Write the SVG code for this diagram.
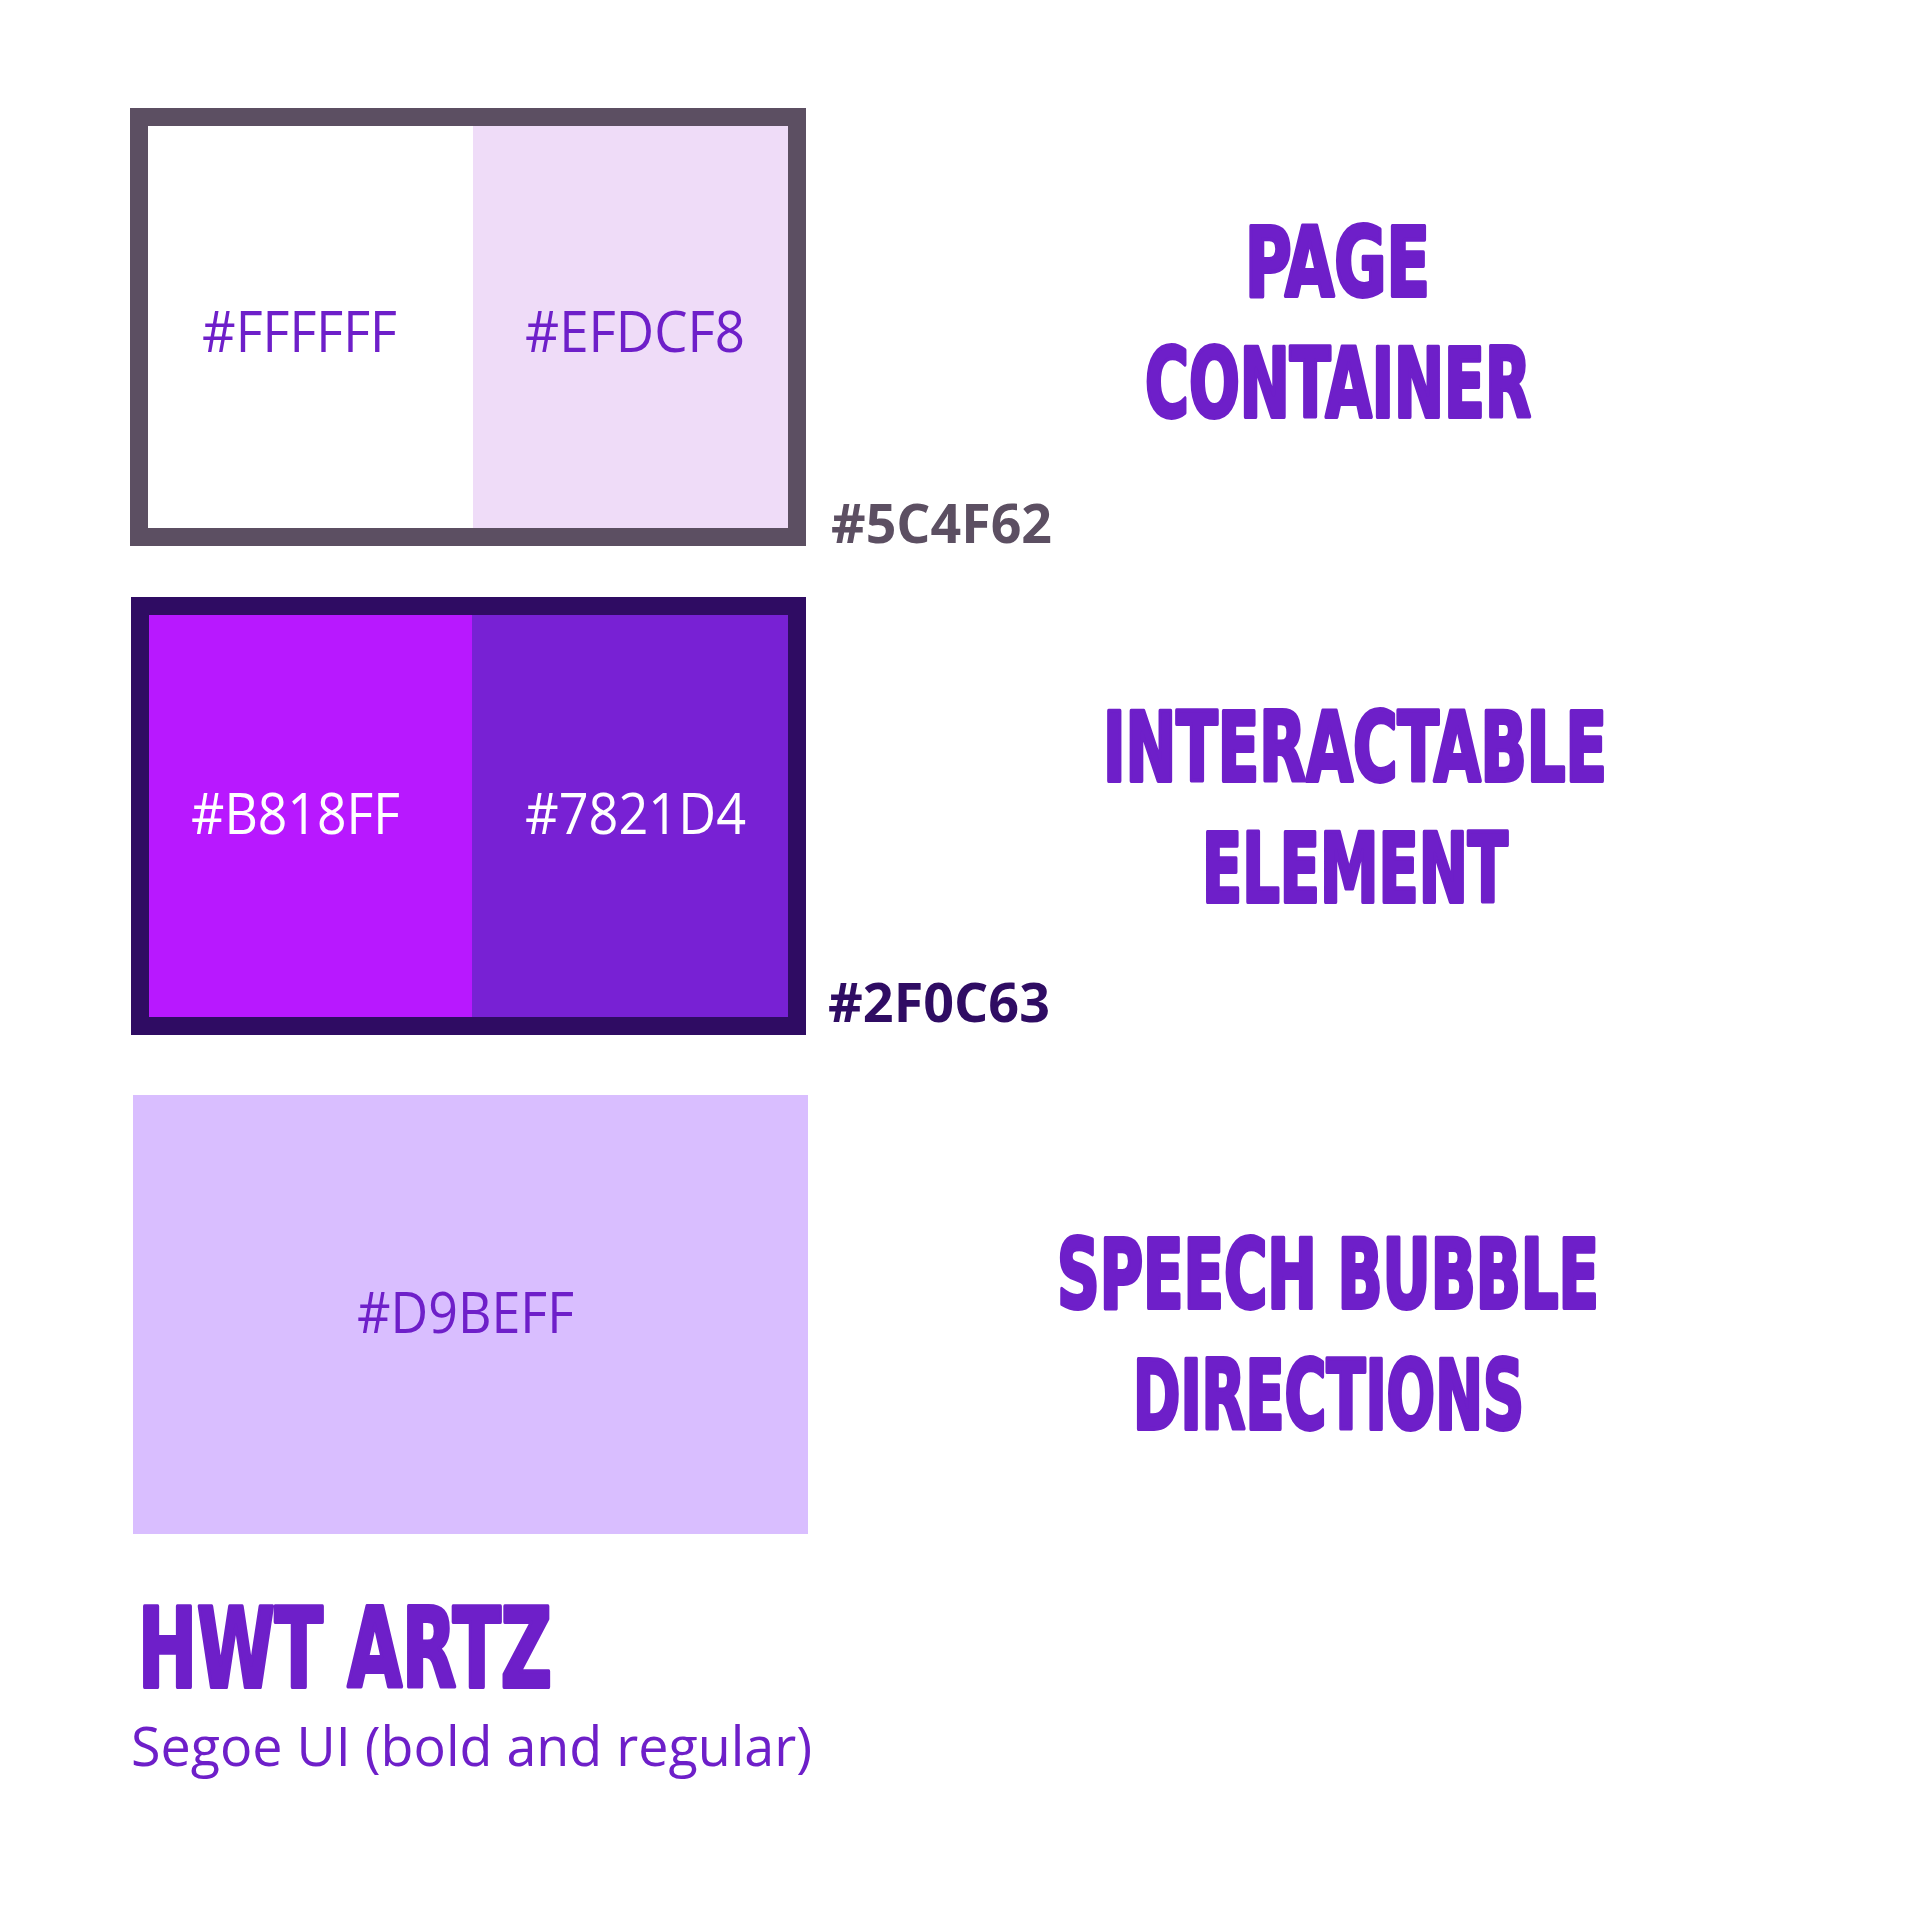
<svg xmlns="http://www.w3.org/2000/svg" width="1920" height="1920" viewBox="0 0 1920 1920">
<style>
.hex{font-family:"Open Sans","Noto Sans","Liberation Sans",sans-serif;font-size:57px;font-weight:400}
.hexb{font-family:"Open Sans","Noto Sans","Liberation Sans",sans-serif;font-size:53px;font-weight:700}
.title{font-family:"Liberation Sans Narrow","DejaVu Sans Condensed","Liberation Sans",sans-serif;font-stretch:condensed;font-size:96px;font-weight:700;fill:#6E1FC9;stroke:#6E1FC9;stroke-width:4;stroke-linejoin:round}
.purple{fill:#6E1FC9}
.white{fill:#FFFFFF}
</style>
<rect width="1920" height="1920" fill="#FFFFFF"/>
<g id="page-container">
<rect x="148" y="126" width="325" height="402" fill="#FFFFFF"/>
<rect x="473" y="126" width="315" height="402" fill="#EFDCF8"/>
<rect x="139" y="117" width="658" height="420" fill="none" stroke="#5C4F62" stroke-width="18"/>
<text class="hex purple" x="202" y="352" textLength="195" lengthAdjust="spacingAndGlyphs">#FFFFFF</text>
<text class="hex purple" x="525" y="352" textLength="220" lengthAdjust="spacingAndGlyphs">#EFDCF8</text>
<text class="hexb" x="831" y="543" fill="#5C4F62" textLength="221" lengthAdjust="spacingAndGlyphs">#5C4F62</text>
<text class="title" x="1245" y="296" textLength="185" lengthAdjust="spacingAndGlyphs">PAGE</text>
<text class="title" x="1145" y="417" textLength="386" lengthAdjust="spacingAndGlyphs">CONTAINER</text>
</g>
<g id="interactable-element">
<rect x="149" y="615" width="323" height="402" fill="#B818FF"/>
<rect x="472" y="615" width="316" height="402" fill="#7821D4"/>
<rect x="140" y="606" width="657" height="420" fill="none" stroke="#2F0C63" stroke-width="18"/>
<text class="hex white" x="191" y="834" textLength="209" lengthAdjust="spacingAndGlyphs">#B818FF</text>
<text class="hex white" x="525" y="834" textLength="221" lengthAdjust="spacingAndGlyphs">#7821D4</text>
<text class="hexb" x="828" y="1022" fill="#2F0C63" textLength="222" lengthAdjust="spacingAndGlyphs">#2F0C63</text>
<text class="title" x="1103" y="781" textLength="504" lengthAdjust="spacingAndGlyphs">INTERACTABLE</text>
<text class="title" x="1202" y="902" textLength="306" lengthAdjust="spacingAndGlyphs">ELEMENT</text>
</g>
<g id="speech-bubble">
<rect x="133" y="1095" width="675" height="439" fill="#D9BEFF"/>
<text class="hex purple" x="357" y="1333" textLength="217" lengthAdjust="spacingAndGlyphs">#D9BEFF</text>
<text class="title" x="1057" y="1308" textLength="542" lengthAdjust="spacingAndGlyphs">SPEECH BUBBLE</text>
<text class="title" x="1133" y="1429" textLength="391" lengthAdjust="spacingAndGlyphs">DIRECTIONS</text>
</g>
<g id="font-info">
<text class="title" x="138" y="1687" style="font-size:111px" textLength="414" lengthAdjust="spacingAndGlyphs">HWT ARTZ</text>
<text class="hex purple" x="131" y="1766" style="font-size:55px" textLength="681" lengthAdjust="spacingAndGlyphs">Segoe UI (bold and regular)</text>
</g>
<g id="connectors"/>
</svg>
